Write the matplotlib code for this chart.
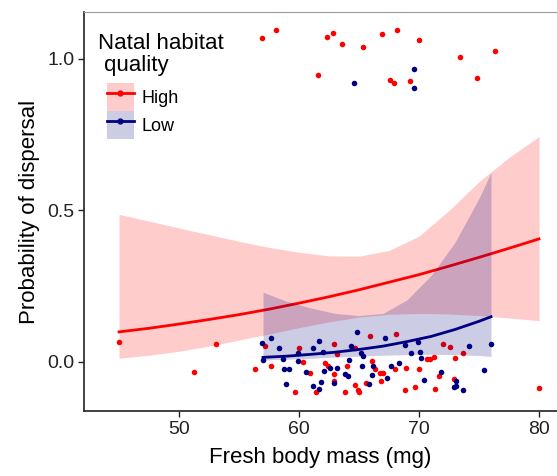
import matplotlib
matplotlib.use("Agg")
import matplotlib.pyplot as plt
from matplotlib.patches import Patch
from matplotlib.lines import Line2D

plt.rcParams['font.family'] = ['Liberation Sans', 'DejaVu Sans']

# observed birds (y = dispersed 0/1, jittered as drawn)
high_x = [56.9, 58.1, 61.6, 62.3, 62.8, 63.6, 65.3, 66.9, 67.6, 67.9, 68.2, 69.25, 70.0, 73.4, 74.8, 76.3,
          45.0, 53.1, 51.25, 56.3, 57.7, 57.2, 60.0, 60.3, 60.9, 59.7, 61.4, 62.2, 62.4,
          62.9, 62.9, 62.9, 63.2, 63.8, 64.0, 64.7, 64.7, 64.9, 65.0, 65.6, 65.9, 66.1, 66.3, 66.75,
          67.0, 66.8, 68.0, 68.1, 68.9, 68.8, 69.7, 70.0, 70.7, 70.9, 71.25, 71.3, 71.7, 72.0, 72.6,
          72.9, 73.0, 73.7, 80.0]
high_y = [1.069, 1.095, 0.947, 1.072, 1.086, 1.051, 1.041, 1.083, 0.931, 0.919, 1.097, 0.927, 1.064, 1.007, 0.938, 1.026,
          0.065, 0.058, -0.033, -0.022, -0.013, 0.051, 0.045, 0.001, -0.038, -0.098, -0.098, -0.002, -0.015,
          0.060, -0.040, -0.062, 0.025, -0.098, -0.013, 0.045, -0.076, -0.092, -0.100, -0.068, 0.086, 0.004, -0.024, -0.035,
          -0.035, -0.062, -0.024, 0.093, -0.020, -0.093, -0.084, -0.024, 0.009, 0.009, 0.016, -0.090, -0.045, 0.058, 0.050,
          -0.056, 0.012, 0.029, -0.087]

low_x = [64.6, 69.6, 69.6,
         56.9, 57.7, 58.3, 57.0, 58.7, 58.75, 59.2, 59.9, 59.9, 60.6, 58.9, 61.2, 61.7, 61.8, 61.2, 61.7, 62.0, 62.1, 62.6,
         62.9, 63.2, 63.8, 64.1, 64.2, 64.3, 64.8, 65.2, 65.3, 65.25, 65.8, 66.1, 66.2, 67.2, 67.3, 67.7, 68.3, 68.8,
         69.3, 69.9, 70.1, 70.2, 70.4, 71.8, 73.1, 72.9, 73.1, 73.7, 74.2, 75.4, 76.0]
low_y = [0.920, 0.967, 0.905,
         0.062, 0.078, 0.045, 0.006, 0.009, -0.024, -0.022, 0.003, 0.031, -0.032, -0.073, -0.079, -0.088, -0.066, 0.045, 0.069, 0.034, -0.031, -0.021,
         -0.070, -0.021, -0.040, -0.046, 0.007, 0.051, 0.098, 0.029, 0.020, -0.013, -0.074, -0.044, -0.013, 0.079, -0.054, -0.013, -0.004, 0.056,
         0.031, 0.067, 0.034, 0.014, -0.059, -0.033, -0.062, -0.084, -0.079, -0.092, 0.053, -0.026, 0.059]

# fitted probability and confidence band
high_fit_x = [45, 47.5, 50, 52.5, 55, 57.5, 60, 62.5, 65, 67.5, 70, 72.5, 75, 77.5, 80]
high_fit = [0.099, 0.111, 0.125, 0.140, 0.156, 0.174, 0.194, 0.215, 0.238, 0.263, 0.288, 0.316, 0.345, 0.375, 0.406]
high_upper = [0.487, 0.465, 0.442, 0.420, 0.398, 0.378, 0.362, 0.350, 0.349, 0.368, 0.415, 0.500, 0.595, 0.675, 0.744]
high_lower = [0.012, 0.022, 0.035, 0.052, 0.072, 0.092, 0.113, 0.132, 0.148, 0.157, 0.160, 0.158, 0.153, 0.145, 0.136]

low_fit_x = [57, 59, 61, 63, 65, 67, 69, 71, 73, 75, 76]
low_fit = [0.015, 0.019, 0.025, 0.032, 0.041, 0.052, 0.067, 0.084, 0.107, 0.134, 0.149]
low_upper = [0.230, 0.200, 0.178, 0.160, 0.153, 0.160, 0.205, 0.285, 0.395, 0.540, 0.625]
low_lower = [0.006, 0.009, 0.012, 0.016, 0.019, 0.022, 0.024, 0.025, 0.024, 0.021, 0.018]

groups = ['High', 'Low']
RED = '#ff0000'
NAVY = '#000080'

fig = plt.figure(figsize=(5.57, 4.76), dpi=100)
ax = fig.add_axes([0.1508, 0.1366, 0.8492, 0.8382])

# high group
ax.scatter(high_x, high_y, s=16, color=RED, linewidths=0, zorder=1)
ax.fill_between(high_fit_x, high_lower, high_upper, color=RED, alpha=0.2, linewidth=0, zorder=1)
ax.plot(high_fit_x, high_fit, color=RED, lw=2, zorder=1)
# low group
ax.scatter(low_x, low_y, s=16, color=NAVY, linewidths=0, zorder=1)
ax.fill_between(low_fit_x, low_lower, low_upper, color=NAVY, alpha=0.2, linewidth=0, zorder=1)
ax.plot(low_fit_x, low_fit, color=NAVY, lw=2, zorder=1)

ax.set_xlim(42.08, 81.5)
ax.set_ylim(-0.162, 1.155)
ax.set_xticks([50, 60, 70, 80])
ax.set_yticks([0.0, 0.5, 1.0])
ax.set_yticklabels(['0.0', '0.5', '1.0'])
ax.tick_params(labelsize=14, length=4, width=1, pad=3, colors='#222222')

ax.spines['right'].set_visible(False)
ax.spines['top'].set_color('#999999')
ax.spines['top'].set_linewidth(0.8)
for s in ['left', 'bottom']:
    ax.spines[s].set_linewidth(1.2)
    ax.spines[s].set_color('#222222')

ax.set_xlabel('Fresh body mass (mg)', fontsize=16, labelpad=7)
ax.set_ylabel('Probability of dispersal', fontsize=16, labelpad=5)

# legend title drawn as text, keys below it
ax.text(0.0296, 0.907, 'Natal habitat', transform=ax.transAxes, fontsize=16, va='baseline', ha='left')
ax.text(0.0296, 0.852, ' quality', transform=ax.transAxes, fontsize=16, va='baseline', ha='left')

handles = [
    (Patch(facecolor=RED, alpha=0.2, linewidth=0),
     Line2D([], [], color=RED, lw=2, marker='o', markersize=3.5)),
    (Patch(facecolor=NAVY, alpha=0.2, linewidth=0),
     Line2D([], [], color=NAVY, lw=2, marker='o', markersize=3.5)),
]
leg = ax.legend(handles, groups, loc='upper left', bbox_to_anchor=(0.0486, 0.822), frameon=False,
                fontsize=13, handlelength=1.49, handleheight=2.01,
                labelspacing=0.0, handletextpad=0.44, borderpad=0, borderaxespad=0)

fig.savefig('out.png', dpi=100)
